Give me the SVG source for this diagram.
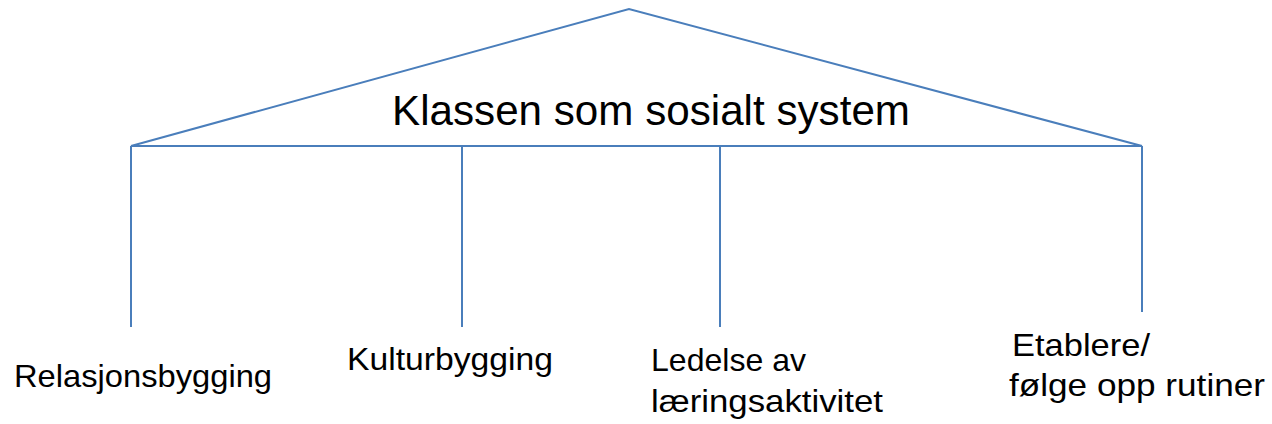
<svg xmlns="http://www.w3.org/2000/svg" width="1272" height="424" viewBox="0 0 1272 424">
<style>
.ln{stroke:#4a7ebb;stroke-width:2;fill:none}
.t{font-family:"Liberation Sans",Arial,sans-serif;fill:#000}
.lbl{font-size:32px}
</style>
<rect width="1272" height="424" fill="#fff"/>
<g id="connectors">
<polyline class="ln" points="131,146 629,9 1142,146"/>
<line class="ln" x1="131" y1="146" x2="1142" y2="146"/>
<line class="ln" x1="131" y1="146" x2="131" y2="327"/>
<line class="ln" x1="462" y1="146" x2="462" y2="327"/>
<line class="ln" x1="720" y1="146" x2="720" y2="327"/>
<line class="ln" x1="1142" y1="146" x2="1142" y2="312"/>
</g>
<g id="title"><text class="t" x="392" y="125" font-size="43" textLength="518" lengthAdjust="spacingAndGlyphs">Klassen som sosialt system</text></g>
<g id="node-relasjon"><text class="t lbl" x="14" y="387" textLength="258" lengthAdjust="spacingAndGlyphs">Relasjonsbygging</text></g>
<g id="node-kultur"><text class="t lbl" x="347" y="370" textLength="206" lengthAdjust="spacingAndGlyphs">Kulturbygging</text></g>
<g id="node-ledelse"><text class="t lbl" x="651" y="371" textLength="155" lengthAdjust="spacingAndGlyphs">Ledelse av</text><text class="t lbl" x="651" y="412" textLength="232" lengthAdjust="spacingAndGlyphs">læringsaktivitet</text></g>
<g id="node-etablere"><text class="t lbl" x="1012" y="356" textLength="138" lengthAdjust="spacingAndGlyphs">Etablere/</text><text class="t lbl" x="1009" y="396" textLength="256" lengthAdjust="spacingAndGlyphs">følge opp rutiner</text></g>
</svg>
